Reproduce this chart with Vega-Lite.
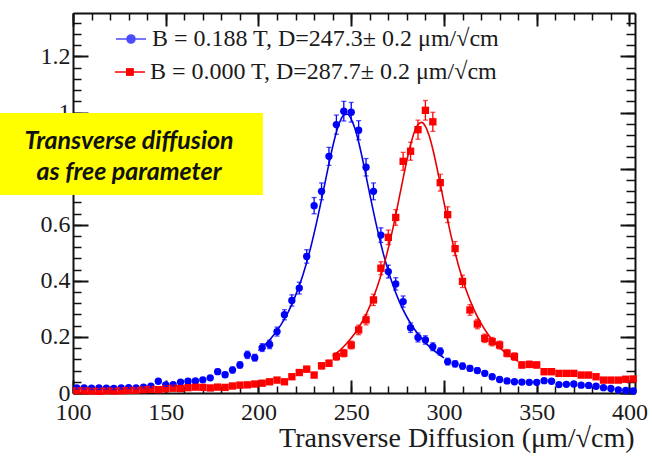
{
  "$schema": "https://vega.github.io/schema/vega-lite/v6.json",
  "width": 562,
  "height": 380,
  "autosize": {"type": "none"},
  "padding": {"left": 73, "top": 13, "right": 17, "bottom": 63},
  "background": "white",
  "config": {"view": {"stroke": null}, "font": "Liberation Serif"},
  "datasets": {
    "points": [
      {"x": 102, "y": 0.018, "e": 0.005, "B": "0.188 T"},
      {"x": 106, "y": 0.018, "e": 0.005, "B": "0.188 T"},
      {"x": 110, "y": 0.017, "e": 0.005, "B": "0.188 T"},
      {"x": 114, "y": 0.018, "e": 0.005, "B": "0.188 T"},
      {"x": 118, "y": 0.017, "e": 0.005, "B": "0.188 T"},
      {"x": 122, "y": 0.016, "e": 0.005, "B": "0.188 T"},
      {"x": 126, "y": 0.018, "e": 0.005, "B": "0.188 T"},
      {"x": 130, "y": 0.019, "e": 0.005, "B": "0.188 T"},
      {"x": 134, "y": 0.018, "e": 0.005, "B": "0.188 T"},
      {"x": 138, "y": 0.021, "e": 0.005, "B": "0.188 T"},
      {"x": 142, "y": 0.024, "e": 0.006, "B": "0.188 T"},
      {"x": 146, "y": 0.042, "e": 0.007, "B": "0.188 T"},
      {"x": 150, "y": 0.029, "e": 0.006, "B": "0.188 T"},
      {"x": 154, "y": 0.030, "e": 0.006, "B": "0.188 T"},
      {"x": 158, "y": 0.039, "e": 0.007, "B": "0.188 T"},
      {"x": 162, "y": 0.042, "e": 0.007, "B": "0.188 T"},
      {"x": 166, "y": 0.043, "e": 0.007, "B": "0.188 T"},
      {"x": 170, "y": 0.047, "e": 0.008, "B": "0.188 T"},
      {"x": 174, "y": 0.054, "e": 0.008, "B": "0.188 T"},
      {"x": 178, "y": 0.076, "e": 0.009, "B": "0.188 T"},
      {"x": 182, "y": 0.065, "e": 0.009, "B": "0.188 T"},
      {"x": 186, "y": 0.082, "e": 0.010, "B": "0.188 T"},
      {"x": 190, "y": 0.100, "e": 0.011, "B": "0.188 T"},
      {"x": 194, "y": 0.136, "e": 0.013, "B": "0.188 T"},
      {"x": 198, "y": 0.126, "e": 0.012, "B": "0.188 T"},
      {"x": 202, "y": 0.162, "e": 0.014, "B": "0.188 T"},
      {"x": 206, "y": 0.173, "e": 0.015, "B": "0.188 T"},
      {"x": 210, "y": 0.219, "e": 0.016, "B": "0.188 T"},
      {"x": 214, "y": 0.279, "e": 0.018, "B": "0.188 T"},
      {"x": 218, "y": 0.330, "e": 0.020, "B": "0.188 T"},
      {"x": 222, "y": 0.374, "e": 0.021, "B": "0.188 T"},
      {"x": 226, "y": 0.487, "e": 0.024, "B": "0.188 T"},
      {"x": 230, "y": 0.668, "e": 0.029, "B": "0.188 T"},
      {"x": 234, "y": 0.719, "e": 0.030, "B": "0.188 T"},
      {"x": 238, "y": 0.844, "e": 0.032, "B": "0.188 T"},
      {"x": 242, "y": 0.957, "e": 0.034, "B": "0.188 T"},
      {"x": 246, "y": 1.005, "e": 0.035, "B": "0.188 T"},
      {"x": 250, "y": 1.001, "e": 0.035, "B": "0.188 T"},
      {"x": 254, "y": 0.937, "e": 0.034, "B": "0.188 T"},
      {"x": 258, "y": 0.805, "e": 0.031, "B": "0.188 T"},
      {"x": 262, "y": 0.719, "e": 0.030, "B": "0.188 T"},
      {"x": 266, "y": 0.563, "e": 0.026, "B": "0.188 T"},
      {"x": 270, "y": 0.433, "e": 0.023, "B": "0.188 T"},
      {"x": 274, "y": 0.389, "e": 0.022, "B": "0.188 T"},
      {"x": 278, "y": 0.326, "e": 0.020, "B": "0.188 T"},
      {"x": 282, "y": 0.233, "e": 0.017, "B": "0.188 T"},
      {"x": 286, "y": 0.198, "e": 0.016, "B": "0.188 T"},
      {"x": 290, "y": 0.189, "e": 0.015, "B": "0.188 T"},
      {"x": 294, "y": 0.165, "e": 0.014, "B": "0.188 T"},
      {"x": 298, "y": 0.148, "e": 0.013, "B": "0.188 T"},
      {"x": 302, "y": 0.112, "e": 0.012, "B": "0.188 T"},
      {"x": 306, "y": 0.104, "e": 0.011, "B": "0.188 T"},
      {"x": 310, "y": 0.096, "e": 0.011, "B": "0.188 T"},
      {"x": 314, "y": 0.088, "e": 0.010, "B": "0.188 T"},
      {"x": 318, "y": 0.080, "e": 0.010, "B": "0.188 T"},
      {"x": 322, "y": 0.070, "e": 0.009, "B": "0.188 T"},
      {"x": 326, "y": 0.058, "e": 0.008, "B": "0.188 T"},
      {"x": 330, "y": 0.048, "e": 0.008, "B": "0.188 T"},
      {"x": 334, "y": 0.043, "e": 0.007, "B": "0.188 T"},
      {"x": 338, "y": 0.040, "e": 0.007, "B": "0.188 T"},
      {"x": 342, "y": 0.039, "e": 0.007, "B": "0.188 T"},
      {"x": 346, "y": 0.038, "e": 0.007, "B": "0.188 T"},
      {"x": 350, "y": 0.038, "e": 0.007, "B": "0.188 T"},
      {"x": 354, "y": 0.044, "e": 0.007, "B": "0.188 T"},
      {"x": 358, "y": 0.042, "e": 0.007, "B": "0.188 T"},
      {"x": 362, "y": 0.030, "e": 0.006, "B": "0.188 T"},
      {"x": 366, "y": 0.031, "e": 0.006, "B": "0.188 T"},
      {"x": 370, "y": 0.032, "e": 0.006, "B": "0.188 T"},
      {"x": 374, "y": 0.028, "e": 0.006, "B": "0.188 T"},
      {"x": 378, "y": 0.027, "e": 0.006, "B": "0.188 T"},
      {"x": 382, "y": 0.024, "e": 0.005, "B": "0.188 T"},
      {"x": 386, "y": 0.019, "e": 0.005, "B": "0.188 T"},
      {"x": 390, "y": 0.016, "e": 0.004, "B": "0.188 T"},
      {"x": 394, "y": 0.011, "e": 0.004, "B": "0.188 T"},
      {"x": 398, "y": 0.009, "e": 0.003, "B": "0.188 T"},
      {"x": 402, "y": 0.007, "e": 0.003, "B": "0.188 T"},
      {"x": 102, "y": 0.008, "e": 0.003, "B": "0.000 T"},
      {"x": 106, "y": 0.008, "e": 0.003, "B": "0.000 T"},
      {"x": 110, "y": 0.007, "e": 0.003, "B": "0.000 T"},
      {"x": 114, "y": 0.006, "e": 0.003, "B": "0.000 T"},
      {"x": 118, "y": 0.008, "e": 0.003, "B": "0.000 T"},
      {"x": 122, "y": 0.007, "e": 0.003, "B": "0.000 T"},
      {"x": 126, "y": 0.008, "e": 0.003, "B": "0.000 T"},
      {"x": 130, "y": 0.009, "e": 0.003, "B": "0.000 T"},
      {"x": 134, "y": 0.010, "e": 0.004, "B": "0.000 T"},
      {"x": 138, "y": 0.012, "e": 0.004, "B": "0.000 T"},
      {"x": 142, "y": 0.013, "e": 0.004, "B": "0.000 T"},
      {"x": 146, "y": 0.012, "e": 0.004, "B": "0.000 T"},
      {"x": 150, "y": 0.015, "e": 0.004, "B": "0.000 T"},
      {"x": 154, "y": 0.017, "e": 0.005, "B": "0.000 T"},
      {"x": 158, "y": 0.016, "e": 0.004, "B": "0.000 T"},
      {"x": 162, "y": 0.019, "e": 0.005, "B": "0.000 T"},
      {"x": 166, "y": 0.021, "e": 0.005, "B": "0.000 T"},
      {"x": 170, "y": 0.020, "e": 0.005, "B": "0.000 T"},
      {"x": 174, "y": 0.018, "e": 0.005, "B": "0.000 T"},
      {"x": 178, "y": 0.021, "e": 0.005, "B": "0.000 T"},
      {"x": 182, "y": 0.020, "e": 0.005, "B": "0.000 T"},
      {"x": 186, "y": 0.025, "e": 0.006, "B": "0.000 T"},
      {"x": 190, "y": 0.028, "e": 0.006, "B": "0.000 T"},
      {"x": 194, "y": 0.029, "e": 0.006, "B": "0.000 T"},
      {"x": 198, "y": 0.032, "e": 0.006, "B": "0.000 T"},
      {"x": 202, "y": 0.035, "e": 0.007, "B": "0.000 T"},
      {"x": 206, "y": 0.040, "e": 0.007, "B": "0.000 T"},
      {"x": 210, "y": 0.046, "e": 0.008, "B": "0.000 T"},
      {"x": 214, "y": 0.040, "e": 0.007, "B": "0.000 T"},
      {"x": 218, "y": 0.058, "e": 0.008, "B": "0.000 T"},
      {"x": 222, "y": 0.073, "e": 0.009, "B": "0.000 T"},
      {"x": 226, "y": 0.085, "e": 0.010, "B": "0.000 T"},
      {"x": 230, "y": 0.064, "e": 0.009, "B": "0.000 T"},
      {"x": 234, "y": 0.097, "e": 0.011, "B": "0.000 T"},
      {"x": 238, "y": 0.106, "e": 0.011, "B": "0.000 T"},
      {"x": 242, "y": 0.130, "e": 0.013, "B": "0.000 T"},
      {"x": 246, "y": 0.142, "e": 0.013, "B": "0.000 T"},
      {"x": 250, "y": 0.171, "e": 0.014, "B": "0.000 T"},
      {"x": 254, "y": 0.225, "e": 0.017, "B": "0.000 T"},
      {"x": 258, "y": 0.261, "e": 0.018, "B": "0.000 T"},
      {"x": 262, "y": 0.332, "e": 0.020, "B": "0.000 T"},
      {"x": 266, "y": 0.445, "e": 0.023, "B": "0.000 T"},
      {"x": 270, "y": 0.555, "e": 0.026, "B": "0.000 T"},
      {"x": 274, "y": 0.626, "e": 0.028, "B": "0.000 T"},
      {"x": 278, "y": 0.826, "e": 0.032, "B": "0.000 T"},
      {"x": 282, "y": 0.862, "e": 0.032, "B": "0.000 T"},
      {"x": 286, "y": 0.939, "e": 0.034, "B": "0.000 T"},
      {"x": 290, "y": 1.008, "e": 0.035, "B": "0.000 T"},
      {"x": 294, "y": 0.967, "e": 0.034, "B": "0.000 T"},
      {"x": 298, "y": 0.750, "e": 0.030, "B": "0.000 T"},
      {"x": 302, "y": 0.636, "e": 0.028, "B": "0.000 T"},
      {"x": 306, "y": 0.515, "e": 0.025, "B": "0.000 T"},
      {"x": 310, "y": 0.398, "e": 0.022, "B": "0.000 T"},
      {"x": 314, "y": 0.296, "e": 0.019, "B": "0.000 T"},
      {"x": 318, "y": 0.246, "e": 0.017, "B": "0.000 T"},
      {"x": 322, "y": 0.195, "e": 0.015, "B": "0.000 T"},
      {"x": 326, "y": 0.183, "e": 0.015, "B": "0.000 T"},
      {"x": 330, "y": 0.171, "e": 0.014, "B": "0.000 T"},
      {"x": 334, "y": 0.142, "e": 0.013, "B": "0.000 T"},
      {"x": 338, "y": 0.130, "e": 0.013, "B": "0.000 T"},
      {"x": 342, "y": 0.100, "e": 0.011, "B": "0.000 T"},
      {"x": 346, "y": 0.102, "e": 0.011, "B": "0.000 T"},
      {"x": 350, "y": 0.100, "e": 0.011, "B": "0.000 T"},
      {"x": 354, "y": 0.076, "e": 0.010, "B": "0.000 T"},
      {"x": 358, "y": 0.076, "e": 0.010, "B": "0.000 T"},
      {"x": 362, "y": 0.070, "e": 0.009, "B": "0.000 T"},
      {"x": 366, "y": 0.070, "e": 0.009, "B": "0.000 T"},
      {"x": 370, "y": 0.070, "e": 0.009, "B": "0.000 T"},
      {"x": 374, "y": 0.064, "e": 0.009, "B": "0.000 T"},
      {"x": 378, "y": 0.064, "e": 0.009, "B": "0.000 T"},
      {"x": 382, "y": 0.058, "e": 0.008, "B": "0.000 T"},
      {"x": 386, "y": 0.046, "e": 0.008, "B": "0.000 T"},
      {"x": 390, "y": 0.046, "e": 0.008, "B": "0.000 T"},
      {"x": 394, "y": 0.046, "e": 0.008, "B": "0.000 T"},
      {"x": 398, "y": 0.049, "e": 0.008, "B": "0.000 T"},
      {"x": 402, "y": 0.050, "e": 0.008, "B": "0.000 T"}
    ],
    "fit": [
      {"x": 200, "y": 0.151, "B": "0.188 T"},
      {"x": 204, "y": 0.175, "B": "0.188 T"},
      {"x": 208, "y": 0.205, "B": "0.188 T"},
      {"x": 212, "y": 0.242, "B": "0.188 T"},
      {"x": 216, "y": 0.288, "B": "0.188 T"},
      {"x": 220, "y": 0.348, "B": "0.188 T"},
      {"x": 224, "y": 0.422, "B": "0.188 T"},
      {"x": 228, "y": 0.515, "B": "0.188 T"},
      {"x": 232, "y": 0.628, "B": "0.188 T"},
      {"x": 236, "y": 0.754, "B": "0.188 T"},
      {"x": 238, "y": 0.818, "B": "0.188 T"},
      {"x": 240, "y": 0.878, "B": "0.188 T"},
      {"x": 242, "y": 0.930, "B": "0.188 T"},
      {"x": 244, "y": 0.969, "B": "0.188 T"},
      {"x": 246, "y": 0.991, "B": "0.188 T"},
      {"x": 248, "y": 0.994, "B": "0.188 T"},
      {"x": 250, "y": 0.977, "B": "0.188 T"},
      {"x": 252, "y": 0.943, "B": "0.188 T"},
      {"x": 254, "y": 0.895, "B": "0.188 T"},
      {"x": 256, "y": 0.837, "B": "0.188 T"},
      {"x": 258, "y": 0.774, "B": "0.188 T"},
      {"x": 260, "y": 0.709, "B": "0.188 T"},
      {"x": 264, "y": 0.586, "B": "0.188 T"},
      {"x": 268, "y": 0.480, "B": "0.188 T"},
      {"x": 272, "y": 0.394, "B": "0.188 T"},
      {"x": 276, "y": 0.325, "B": "0.188 T"},
      {"x": 280, "y": 0.271, "B": "0.188 T"},
      {"x": 284, "y": 0.228, "B": "0.188 T"},
      {"x": 288, "y": 0.194, "B": "0.188 T"},
      {"x": 292, "y": 0.166, "B": "0.188 T"},
      {"x": 296, "y": 0.144, "B": "0.188 T"},
      {"x": 300, "y": 0.125, "B": "0.188 T"},
      {"x": 240, "y": 0.132, "B": "0.000 T"},
      {"x": 244, "y": 0.153, "B": "0.000 T"},
      {"x": 248, "y": 0.180, "B": "0.000 T"},
      {"x": 252, "y": 0.213, "B": "0.000 T"},
      {"x": 256, "y": 0.255, "B": "0.000 T"},
      {"x": 260, "y": 0.309, "B": "0.000 T"},
      {"x": 264, "y": 0.378, "B": "0.000 T"},
      {"x": 268, "y": 0.465, "B": "0.000 T"},
      {"x": 272, "y": 0.573, "B": "0.000 T"},
      {"x": 276, "y": 0.700, "B": "0.000 T"},
      {"x": 278, "y": 0.766, "B": "0.000 T"},
      {"x": 280, "y": 0.829, "B": "0.000 T"},
      {"x": 282, "y": 0.885, "B": "0.000 T"},
      {"x": 284, "y": 0.930, "B": "0.000 T"},
      {"x": 286, "y": 0.957, "B": "0.000 T"},
      {"x": 288, "y": 0.965, "B": "0.000 T"},
      {"x": 290, "y": 0.951, "B": "0.000 T"},
      {"x": 292, "y": 0.918, "B": "0.000 T"},
      {"x": 294, "y": 0.869, "B": "0.000 T"},
      {"x": 296, "y": 0.810, "B": "0.000 T"},
      {"x": 298, "y": 0.746, "B": "0.000 T"},
      {"x": 300, "y": 0.680, "B": "0.000 T"},
      {"x": 304, "y": 0.556, "B": "0.000 T"},
      {"x": 308, "y": 0.451, "B": "0.000 T"},
      {"x": 312, "y": 0.366, "B": "0.000 T"},
      {"x": 316, "y": 0.300, "B": "0.000 T"},
      {"x": 320, "y": 0.248, "B": "0.000 T"},
      {"x": 324, "y": 0.207, "B": "0.000 T"},
      {"x": 328, "y": 0.175, "B": "0.000 T"},
      {"x": 332, "y": 0.150, "B": "0.000 T"},
      {"x": 336, "y": 0.129, "B": "0.000 T"},
      {"x": 340, "y": 0.113, "B": "0.000 T"}
    ]
  },
  "resolve": {"axis": {"x": "independent", "y": "independent"}},
  "layer": [
    {
      "data": {"name": "points"},
      "mark": {"type": "point", "filled": true, "size": 54, "opacity": 1},
      "encoding": {
        "x": {"field": "x", "type": "quantitative",
          "scale": {"domain": [100, 403], "nice": false, "zero": false},
          "axis": {"orient": "bottom", "values": [100, 150, 200, 250, 300, 350, 400], "tickSize": -13, "tickWidth": 2, "tickColor": "#111", "domain": true, "domainWidth": 2, "domainColor": "#111", "labelFont": "Liberation Serif", "labelFontSize": 24, "labelColor": "#1a1a1a", "labelPadding": 20, "labelFlush": false, "labelOverlap": false, "grid": false,
            "title": "Transverse Diffusion (μm/√cm)", "titleFont": "Liberation Serif", "titleFontSize": 28, "titleFontWeight": "normal", "titleColor": "#1a1a1a", "titleAlign": "right", "titleBaseline": "alphabetic", "titleX": 561, "titleY": 53}},
        "y": {"field": "y", "type": "quantitative",
          "scale": {"domain": [0, 1.355], "nice": false, "zero": false},
          "axis": {"orient": "left", "values": [0, 0.2, 0.4, 0.6, 0.8, 1, 1.2], "format": "~g", "tickSize": -15, "tickWidth": 2, "tickColor": "#111", "domain": true, "domainWidth": 2, "domainColor": "#111", "labelFont": "Liberation Serif", "labelFontSize": 24, "labelColor": "#1a1a1a", "labelPadding": 18, "labelFlush": false, "labelOverlap": false, "title": null, "grid": false}},
        "color": {"field": "B", "type": "nominal",
          "scale": {"domain": ["0.188 T", "0.000 T"], "range": ["#0000ff", "#ff0000"]},
          "legend": {
            "values": ["0.188 T"],
            "orient": "none", "legendX": 42, "legendY": 10, "title": null, "padding": 0,
            "symbolSize": 900, "symbolType": "M-1,0L1,0M-0.27,0A0.27,0.27,0,1,1,0.27,0A0.27,0.27,0,1,1,-0.27,0Z",
            "symbolStrokeColor": "#0000ff", "symbolStrokeWidth": 1.5, "symbolOpacity": 1,
            "labelOffset": 5, "labelFont": "Liberation Serif", "labelFontSize": 24, "labelColor": "#1a1a1a", "labelLimit": 500,
            "labelExpr": "'B = 0.188 T, D=247.3± 0.2 μm/√cm'"
          }},
        "shape": {"field": "B", "type": "nominal",
          "scale": {"domain": ["0.000 T", "0.188 T"], "range": ["square", "circle"]},
          "legend": null}
      }
    },
    {
      "data": {"name": "points"},
      "mark": {"type": "errorbar", "ticks": {"size": 5}, "thickness": 1.3},
      "encoding": {
        "x": {"field": "x", "type": "quantitative",
          "scale": {"domain": [100, 403], "nice": false, "zero": false},
          "axis": {"orient": "bottom", "values": [100, 110, 120, 130, 140, 150, 160, 170, 180, 190, 200, 210, 220, 230, 240, 250, 260, 270, 280, 290, 300, 310, 320, 330, 340, 350, 360, 370, 380, 390, 400], "tickSize": -7, "tickWidth": 1.5, "tickColor": "#111", "domain": false, "labels": false, "title": null, "grid": false}},
        "y": {"field": "y", "type": "quantitative",
          "scale": {"domain": [0, 1.355], "nice": false, "zero": false},
          "axis": {"orient": "left", "values": [0, 0.04, 0.08, 0.12, 0.16, 0.2, 0.24, 0.28, 0.32, 0.36, 0.4, 0.44, 0.48, 0.52, 0.56, 0.6, 0.64, 0.68, 0.72, 0.76, 0.8, 0.84, 0.88, 0.92, 0.96, 1, 1.04, 1.08, 1.12, 1.16, 1.2, 1.24, 1.28, 1.32], "tickSize": -8, "tickWidth": 1.5, "tickColor": "#111", "domain": false, "labels": false, "title": null, "grid": false}},
        "yError": {"field": "e"},
        "color": {"field": "B", "type": "nominal",
          "scale": {"domain": ["0.188 T", "0.000 T"], "range": ["#0000ff", "#ff0000"]}}
      }
    },
    {
      "data": {"name": "fit"},
      "mark": {"type": "line", "strokeWidth": 1.6, "interpolate": "monotone"},
      "encoding": {
        "x": {"field": "x", "type": "quantitative",
          "scale": {"domain": [100, 403], "nice": false, "zero": false},
          "axis": {"orient": "top", "values": [100, 150, 200, 250, 300, 350, 400], "tickSize": -13, "tickWidth": 2, "tickColor": "#111", "domain": true, "domainWidth": 2, "domainColor": "#111", "labels": false, "title": null, "grid": false}},
        "y": {"field": "y", "type": "quantitative",
          "scale": {"domain": [0, 1.355], "nice": false, "zero": false},
          "axis": {"orient": "right", "values": [0, 0.2, 0.4, 0.6, 0.8, 1, 1.2], "tickSize": -15, "tickWidth": 2, "tickColor": "#111", "domain": true, "domainWidth": 2, "domainColor": "#111", "labels": false, "title": null, "grid": false}},
        "detail": {"field": "B"},
        "stroke": {"field": "B", "type": "nominal",
          "scale": {"domain": ["0.000 T", "0.188 T"], "range": ["#e80000", "#0000e0"]},
          "legend": null}
      }
    },
    {
      "data": {"values": [{}]},
      "mark": {"type": "rule", "color": "#ff0000", "strokeWidth": 1.5},
      "encoding": {
        "x": {"datum": 122.6, "type": "quantitative", "scale": {"domain": [100, 403], "nice": false, "zero": false}, "axis": null},
        "x2": {"datum": 138.8},
        "y": {"datum": 1.1446, "type": "quantitative", "scale": {"domain": [0, 1.355], "nice": false, "zero": false}, "axis": null}
      }
    },
    {
      "data": {"values": [{}]},
      "mark": {"type": "square", "color": "#ff0000", "filled": true, "size": 61, "opacity": 1},
      "encoding": {
        "x": {"datum": 130.7, "type": "quantitative", "scale": {"domain": [100, 403], "nice": false, "zero": false}, "axis": null},
        "y": {"datum": 1.1446, "type": "quantitative", "scale": {"domain": [0, 1.355], "nice": false, "zero": false}, "axis": null}
      }
    },
    {
      "data": {"values": [{}]},
      "mark": {"type": "text", "text": "B = 0.000 T, D=287.7± 0.2 μm/√cm", "font": "Liberation Serif", "fontSize": 24, "align": "left", "baseline": "middle", "color": "#1a1a1a"},
      "encoding": {
        "x": {"datum": 141.5, "type": "quantitative", "scale": {"domain": [100, 403], "nice": false, "zero": false}, "axis": null},
        "y": {"datum": 1.1446, "type": "quantitative", "scale": {"domain": [0, 1.355], "nice": false, "zero": false}, "axis": null}
      }
    },
    {
      "data": {"values": [{}]},
      "mark": {"type": "rect", "color": "#ffff00"},
      "encoding": {
        "x": {"datum": 60.6, "type": "quantitative",
          "scale": {"domain": [100, 403], "nice": false, "zero": false},
          "axis": {"orient": "top", "values": [100, 110, 120, 130, 140, 150, 160, 170, 180, 190, 200, 210, 220, 230, 240, 250, 260, 270, 280, 290, 300, 310, 320, 330, 340, 350, 360, 370, 380, 390, 400], "tickSize": -7, "tickWidth": 1.5, "tickColor": "#111", "domain": false, "labels": false, "title": null, "grid": false}},
        "x2": {"datum": 202.4},
        "y": {"datum": 0.998, "type": "quantitative",
          "scale": {"domain": [0, 1.355], "nice": false, "zero": false},
          "axis": {"orient": "right", "values": [0, 0.04, 0.08, 0.12, 0.16, 0.2, 0.24, 0.28, 0.32, 0.36, 0.4, 0.44, 0.48, 0.52, 0.56, 0.6, 0.64, 0.68, 0.72, 0.76, 0.8, 0.84, 0.88, 0.92, 0.96, 1, 1.04, 1.08, 1.12, 1.16, 1.2, 1.24, 1.28, 1.32], "tickSize": -9, "tickWidth": 1.5, "tickColor": "#111", "domain": false, "labels": false, "title": null, "grid": false}},
        "y2": {"datum": 0.706}
      }
    },
    {
      "data": {"values": [{}]},
      "mark": {"type": "text", "text": ["Transverse diffusion", "as free parameter"], "font": "Lato", "fontStyle": "italic", "fontWeight": "bold", "fontSize": 25, "lineHeight": 31, "align": "center", "baseline": "middle", "color": "#111"},
      "encoding": {
        "x": {"datum": 130.2, "type": "quantitative", "scale": {"domain": [100, 403], "nice": false, "zero": false}, "axis": null},
        "y": {"datum": 0.897, "type": "quantitative", "scale": {"domain": [0, 1.355], "nice": false, "zero": false}, "axis": null}
      }
    }
  ]
}
